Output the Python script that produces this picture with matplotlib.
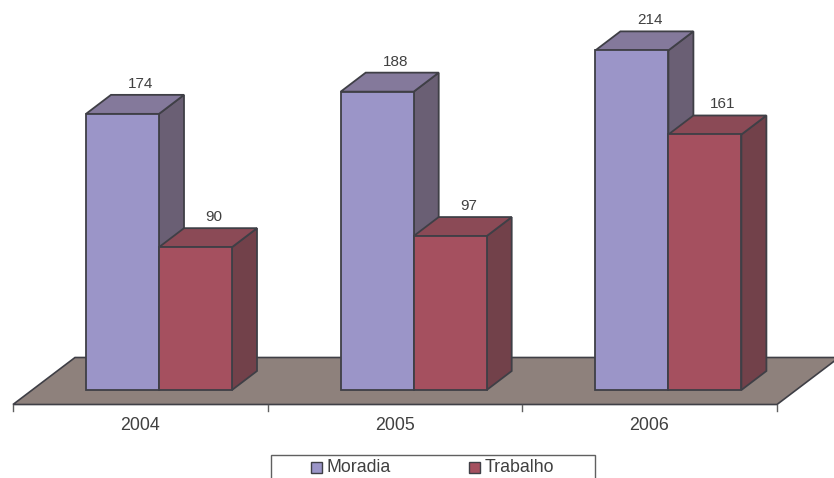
import matplotlib
matplotlib.use('Agg')
import matplotlib.pyplot as plt
from matplotlib.patches import Polygon, Rectangle

plt.rcParams['font.family'] = ['Liberation Sans', 'DejaVu Sans']

years = ['2004', '2005', '2006']
moradia = [174, 188, 214]
trabalho = [90, 97, 161]
series_names = ['Moradia', 'Trabalho']

# colours: front, top, side
blue = ('#9B95C8', '#84799B', '#6A5F74')
red = ('#A5505F', '#8B4A56', '#72414A')
edge = '#3F3F46'
text_col = '#404040'

scale = 1.587  # px per unit
base_y = 390
group_w = 254.7
first_x = 86
bar_w = 73
dx, dy = 25, -19

fig = plt.figure(figsize=(8.34, 4.78), dpi=100)
ax = fig.add_axes([0, 0, 1, 1])
ax.set_xlim(0, 834)
ax.set_ylim(478, 0)
ax.axis('off')


def poly(pts, col, z):
    ax.add_patch(Polygon(pts, closed=True, facecolor=col, edgecolor=edge, lw=1.3, joinstyle='miter', zorder=z))


def bar3d(x, val, cols, z):
    top = base_y - val * scale
    r = x + bar_w
    poly([(r, base_y), (r + dx, base_y + dy), (r + dx, top + dy), (r, top)], cols[2], z)
    poly([(x, top), (x + dx, top + dy), (r + dx, top + dy), (r, top)], cols[1], z)
    poly([(x, base_y), (x, top), (r, top), (r, base_y)], cols[0], z + 0.1)
    ax.text(x + 54.5, top + dy - 11, str(val), ha='center', va='center', fontsize=11, color=text_col, zorder=10)


# floor
ax.add_patch(Polygon([(13, 404.5), (75, 357.5), (839, 357.5), (777, 404.5)], closed=True,
                     facecolor='#8E817C', edgecolor=edge, lw=1.2, zorder=1))

# axis ticks under the floor
for i in range(len(years) + 1):
    tx = 13 + i * group_w
    ax.plot([tx, tx], [405, 411], color='#606060', lw=1, zorder=1)

for i, year in enumerate(years):
    gx = first_x + i * group_w
    bar3d(gx, moradia[i], blue, 2 + i)
    bar3d(gx + bar_w, trabalho[i], red, 2.5 + i)
    ax.text(gx + 54, 426, year, ha='center', va='center', fontsize=12.8, color=text_col)

# legend box runs off the bottom of the image
ax.add_patch(Rectangle((271, 454.5), 324, 40, facecolor='white', edgecolor='#606060', lw=1, zorder=5))
for name, cols, sx in zip(series_names, (blue, red), (311, 469)):
    ax.add_patch(Rectangle((sx, 462), 11, 11, facecolor=cols[0], edgecolor=edge, lw=1, zorder=6))
    ax.text(sx + 16, 467.5, name, ha='left', va='center', fontsize=12.8, color=text_col, zorder=6)

fig.savefig('out.png', dpi=100)
